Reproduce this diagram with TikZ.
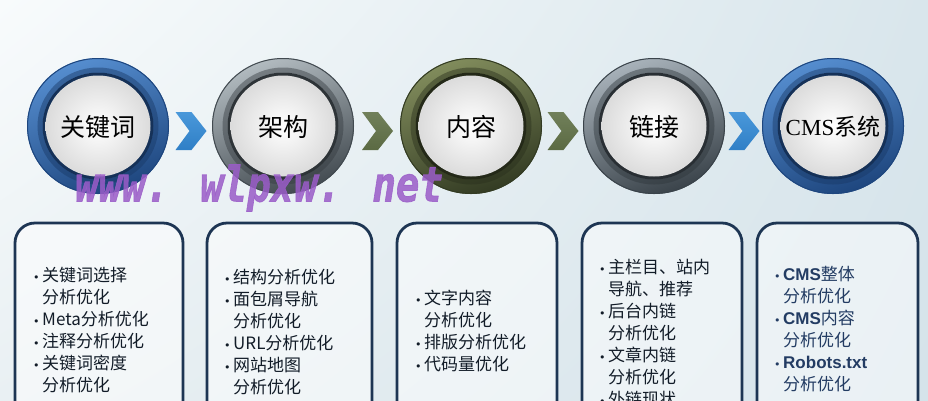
\documentclass[tikz,border=0pt]{standalone}
\usepackage{fontspec}
\newfontfamily\cjk{Noto Sans CJK SC}
\newfontfamily\serifl{Liberation Serif}
\newfontfamily\arialf{Liberation Sans}
\newfontfamily\dejavu{DejaVu Sans}
\newfontfamily\wmfont{DejaVu Sans Mono}[FakeBold=1.5]
\usetikzlibrary{calc,shadings}
\definecolor{bgA}{HTML}{F8FBFC}
\definecolor{bgB}{HTML}{D9E6EC}
\definecolor{bgC}{HTML}{E9F0F3}
\definecolor{bgD}{HTML}{D5E3EA}
\definecolor{blueL}{HTML}{558DCF}
\definecolor{blueD}{HTML}{1E467E}
\definecolor{greyL}{HTML}{B2BBC0}
\definecolor{greyD}{HTML}{424A50}
\definecolor{oliveL}{HTML}{818C5C}
\definecolor{oliveD}{HTML}{333B23}
\definecolor{steelL}{HTML}{A8B2BA}
\definecolor{steelD}{HTML}{3A434A}
\definecolor{chevBlue}{HTML}{2F7FC6}
\definecolor{chevBlueL}{HTML}{4A98DA}
\definecolor{chevOlive}{HTML}{5B6A43}
\definecolor{chevOliveL}{HTML}{71805A}
\definecolor{boxLine}{HTML}{1D3553}
\definecolor{txtDark}{HTML}{121C28}
\definecolor{txtNavy}{HTML}{233C63}
\definecolor{wmPurple}{HTML}{9A5CC8}
\newcommand\bl{\makebox[9pt][l]{\dejavu\fontsize{11}{11}\selectfont •}}
\newcommand\ind{\hspace*{9pt}}
\newcommand\drawring[5]{%
  \shade[top color=#2, bottom color=#3, shading angle=20] (#1,126) ellipse [x radius=71, y radius=68];
  \draw[#3, line width=1pt] (#1,126) ellipse [x radius=70.5, y radius=67.5];
  \draw[#3!80!black, line width=5pt, opacity=0.45] (#1,126) ellipse [x radius=58, y radius=56];
  \fill[#3!70!black] (#1,126) ellipse [x radius=55.5, y radius=53.5];
  \shade[inner color=white, outer color=gray!28] (#1,126) ellipse [x radius=52.5, y radius=50.5];
  \node[ringtext] (#4) at (#1,127) {#5};
}
\newcommand\chevron[3]{%
  \shade[top color=#3, bottom color=#2] ($(#1)+(-15,-19)$) -- ($(#1)+(1,-19)$) -- ($(#1)+(16,0)$) -- ($(#1)+(1,19)$) -- ($(#1)+(-15,19)$) -- ($(#1)+(-1,0)$) -- cycle;
}
\tikzset{
  ringtext/.style={font=\cjk\fontsize{25}{25}\selectfont, text=black, inner sep=0pt},
  infobox/.style={draw=boxLine, line width=2.8pt, rounded corners=20pt, fill=white, fill opacity=0.5},
  boxtext/.style={anchor=north west, inner sep=0pt, align=left, text=txtDark, font=\cjk\fontsize{17}{22}\selectfont},
}
\begin{document}
\begin{tikzpicture}[x=1pt,y=-1pt]
\useasboundingbox (0,0) rectangle (928,400);
\clip (0,0) rectangle (928,400);
\shade[upper left=bgA, upper right=bgB, lower left=bgC, lower right=bgD] (0,0) rectangle (928,400);

% rings
\drawring{98}{blueL}{blueD}{k1}{关键词}
\drawring{283}{greyL}{greyD}{k2}{架构}
\drawring{471}{oliveL}{oliveD}{k3}{内容}
\drawring{654}{steelL}{steelD}{k4}{链接}
\drawring{833}{blueL}{blueD}{k5}{{\serifl\fontsize{23}{23}\selectfont CMS}{\fontsize{23}{23}\selectfont 系统}}

% chevrons
\coordinate (c1) at ($(k1)!0.5!(k2)+(0,4)$);
\coordinate (c2) at ($(k2)!0.5!(k3)+(0,4)$);
\coordinate (c3) at ($(k3)!0.5!(k4)+(0,4)$);
\coordinate (c4) at ($(k4)!0.5!(k5)+(0,4)$);
\chevron{c1}{chevBlue}{chevBlueL}
\chevron{c2}{chevOlive}{chevOliveL}
\chevron{c3}{chevOlive}{chevOliveL}
\chevron{c4}{chevBlue}{chevBlueL}

% boxes
\draw[infobox] (15,223) rectangle (183,440);
\draw[infobox] (207,223) rectangle (372,440);
\draw[infobox] (397,223) rectangle (557,440);
\draw[infobox] (582,223) rectangle (742,440);
\draw[infobox] (757,223) rectangle (918,440);

\node[boxtext] (t1) at (33,266.5) {\bl 关键词选择\\ \ind 分析优化\\ \bl Meta分析优化\\ \bl 注释分析优化\\ \bl 关键词密度\\ \ind 分析优化};
\node[boxtext] (t2) at (224,268.5) {\bl 结构分析优化\\ \bl 面包屑导航\\ \ind 分析优化\\ \bl URL分析优化\\ \bl 网站地图\\ \ind 分析优化};
\node[boxtext] (t3) at (415,289.5) {\bl 文字内容\\ \ind 分析优化\\ \bl 排版分析优化\\ \bl 代码量优化};
\node[boxtext] (t4) at (599,258.5) {\bl 主栏目、站内\\ \ind 导航、推荐\\ \bl 后台内链\\ \ind 分析优化\\ \bl 文章内链\\ \ind 分析优化\\ \bl 外链现状};
\node[boxtext, text=txtNavy] (t5) at (774,266.5) {\bl{\arialf\bfseries CMS}整体\\ \ind 分析优化\\ \bl{\arialf\bfseries CMS}内容\\ \ind 分析优化\\ \bl{\arialf\bfseries Robots.txt}\\ \ind 分析优化};

% watermark
\node[font=\wmfont\bfseries\itshape\fontsize{39}{39}\selectfont, text=wmPurple, text opacity=0.85, yscale=1.25, inner sep=0pt] (wm) at (259,188) {www. wlpxw. net};
\end{tikzpicture}
\end{document}
